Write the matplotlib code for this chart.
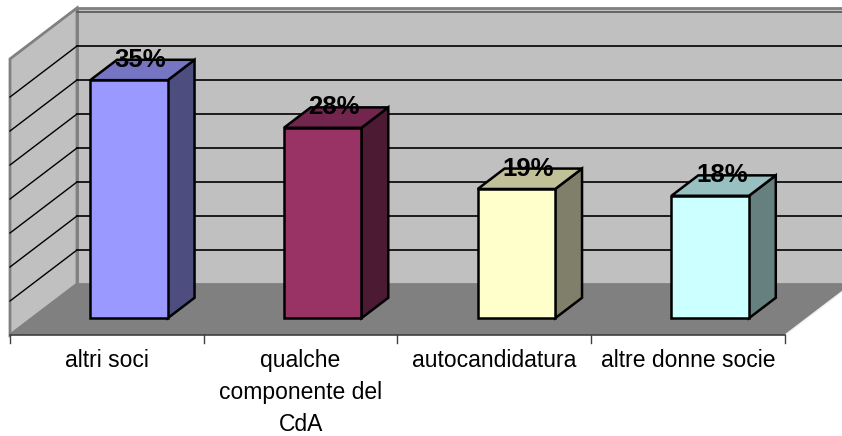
import matplotlib.pyplot as plt
from matplotlib.patches import Polygon

plt.rcParams['font.family'] = ['Liberation Sans', 'DejaVu Sans']

categories = ['altri soci', 'qualche\ncomponente del\nCdA', 'autocandidatura', 'altre donne socie']
values = [35, 28, 19, 18]
labels = ['35%', '28%', '19%', '18%']
front_colors = ['#9999FF', '#993366', '#FFFFCC', '#CCFFFF']
top_colors = ['#7575C4', '#73264D', '#C0C099', '#99C0C0']
side_colors = ['#4D4D80', '#4D1A33', '#80806A', '#668080']
y_max = 40
y_step = 5

# oblique projection: depth d (0 = front of floor, 1 = back wall)
DX = 0.3458
DY = 7.5
bar_w = 0.40
bar_d0, bar_d1 = 0.33, 0.73


def proj(x, v, d):
    return (x + d * DX, v + d * DY)


fig = plt.figure(figsize=(8.42, 4.36), dpi=100)
ax = fig.add_axes([0, 0, 1, 1])
ax.set_xlim(-0.0516, 4.2942)
ax.set_ylim(-14.853, 49.265)
ax.axis('off')

n = len(categories)
wall = '#C0C0C0'
edge = '#808080'

# back wall, left wall, floor
top_v = y_max + 0.6
back = [proj(0, 0, 1), proj(n, 0, 1), proj(n, top_v, 1), proj(0, top_v, 1)]
left = [proj(0, 0, 0), proj(0, 0, 1), proj(0, top_v, 1), proj(0, top_v, 0)]
floor = [proj(0, 0, 0), proj(n, 0, 0), proj(n, 0, 1), proj(0, 0, 1)]
ax.add_patch(Polygon(back, closed=True, facecolor=wall, edgecolor=edge, lw=2, zorder=1))
ax.add_patch(Polygon(left, closed=True, facecolor=wall, edgecolor=edge, lw=2, zorder=1))
ax.add_patch(Polygon(floor, closed=True, facecolor='#808080', edgecolor='none', zorder=2))

# gridlines on both walls
for v in range(y_step, y_max + 1, y_step):
    col = '#555555' if v == y_max else 'black'
    p0, p1, p2 = proj(0, v, 0), proj(0, v, 1), proj(n, v, 1)
    if v < y_max:
        ax.plot([p0[0], p1[0]], [p0[1], p1[1]], color='black', lw=1, zorder=1.5)
    ax.plot([p1[0], p2[0]], [p1[1], p2[1]], color=col, lw=1.2, zorder=1.5)

# floor edges
a, b = proj(n, 0, 0), proj(n, 0, 1)
ax.plot([a[0], b[0]], [a[1], b[1]], color='#F0F0F0', lw=1, zorder=2.5)
ax.plot([0, n], [0, 0], color='#404040', lw=1.2, zorder=2.5)

# category axis ticks and labels
for i in range(n + 1):
    ax.plot([i, i], [0, -1.2], color='#404040', lw=1, zorder=2.5)
for i, cat in enumerate(categories):
    ax.text(i + 0.5, -2.1, cat, ha='center', va='top', fontsize=16.5,
            linespacing=1.48, zorder=5)

# 3d bars
for i, v in enumerate(values):
    x0 = i + 0.5 - bar_w / 2
    x1 = i + 0.5 + bar_w / 2
    front = [proj(x0, 0, bar_d0), proj(x1, 0, bar_d0), proj(x1, v, bar_d0), proj(x0, v, bar_d0)]
    top = [proj(x0, v, bar_d0), proj(x1, v, bar_d0), proj(x1, v, bar_d1), proj(x0, v, bar_d1)]
    side = [proj(x1, 0, bar_d0), proj(x1, 0, bar_d1), proj(x1, v, bar_d1), proj(x1, v, bar_d0)]
    for poly, fc in ((side, side_colors[i]), (top, top_colors[i]), (front, front_colors[i])):
        ax.add_patch(Polygon(poly, closed=True, facecolor=fc, edgecolor='black',
                             lw=1.8, joinstyle='miter', zorder=3))
    lx, ly = proj(i + 0.5, v, (bar_d0 + bar_d1) / 2)
    _, ty = proj(0, v, bar_d1)
    ax.text(lx - 0.01, ty, labels[i], ha='center', va='center', fontsize=18.5,
            fontweight='bold', zorder=6)

fig.savefig('out.png', dpi=100)
